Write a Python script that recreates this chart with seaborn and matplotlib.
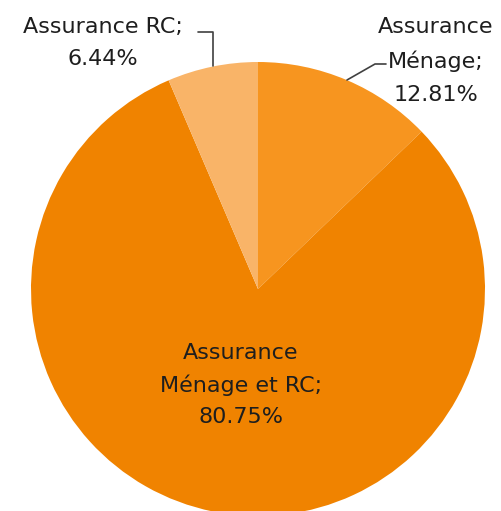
import matplotlib
matplotlib.use("Agg")
import matplotlib.pyplot as plt
import seaborn as sns

categories = ["Assurance\nMénage", "Assurance\nMénage et RC", "Assurance RC"]
values = [12.81, 80.75, 6.44]
colors = ["#F7951F", "#F08300", "#F9B468"]

sns.set_theme(style="white")
plt.rcParams["font.family"] = ["DejaVu Sans"]

W, H = 501, 511
fig = plt.figure(figsize=(W / 100, H / 100), dpi=100)
ax = fig.add_axes([0, 0, 1, 1])

cx, cy, r = 258, H - 289, 227
ax.pie(values, colors=colors, startangle=90, counterclock=False,
       center=(cx, cy), radius=r, wedgeprops=dict(linewidth=0),
       frame=True)
ax.set_xlim(0, W)
ax.set_ylim(0, H)
ax.set_aspect("equal")
ax.axis("off")

fs = 16
tc = "#1e1e1e"
lc = "#404040"

def lab(i):
    return f"{categories[i]};\n{values[i]:.2f}%"

# Assurance Ménage (top right)
ax.text(436, H - 61, lab(0), ha="center", va="center", fontsize=fs,
        color=tc, linespacing=1.8)
ax.plot([347, 375, 386], [H - 80, H - 64, H - 64], color=lc, lw=1.2)

# Assurance Ménage et RC (inside)
ax.text(241, H - 385, lab(1).replace("\n", " ", 1).replace(" ", "\n", 1),
        ha="center", va="center", fontsize=fs, color=tc, linespacing=1.65)

# Assurance RC (top left)
ax.text(103, H - 43, lab(2), ha="center", va="center",
        fontsize=fs, color=tc, linespacing=1.8)
ax.plot([198, 213, 213], [H - 32, H - 32, H - 66], color=lc, lw=1.2)

fig.savefig("out.png", dpi=100, facecolor="white")
